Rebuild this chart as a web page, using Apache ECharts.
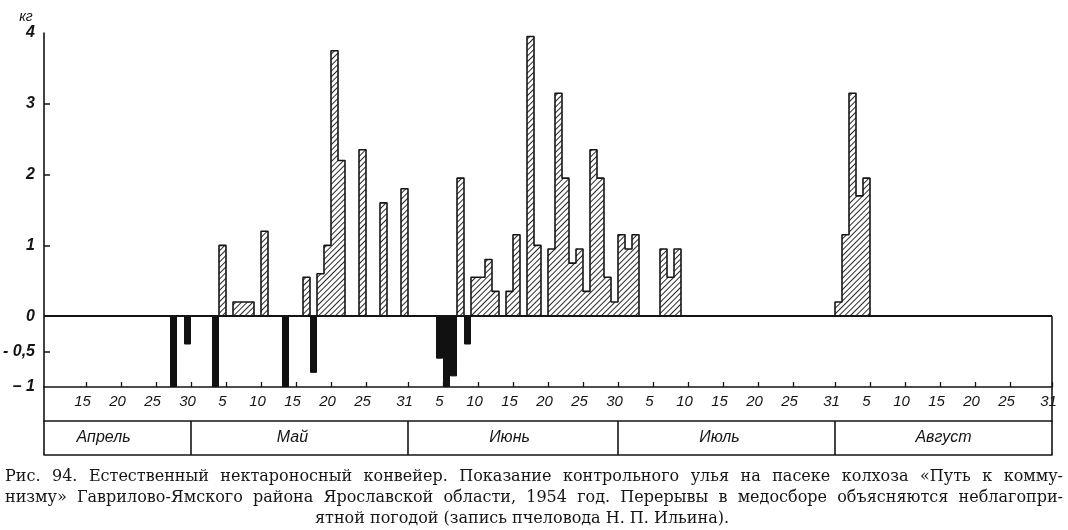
<!DOCTYPE html>
<html><head><meta charset="utf-8">
<script src="https://cdn.jsdelivr.net/npm/echarts@6/dist/echarts.min.js"></script>
<style>html,body{margin:0;padding:0;background:#fff}#chart{width:1068px;height:530px}</style>
</head><body><div id="chart"></div>
<script>
// ---------------- DATA ----------------
const monthNames = ['Апрель', 'Май', 'Июнь', 'Июль', 'Август'];
const monthFirstDay = [10, 1, 1, 1, 1];
// daily change of hive weight, kg (April 10 – 30)
const april = [0,0,0,0,0, 0,0,0,0,0, 0,0,0,0,0, 0,0,0,-1,0, -0.4];
// May 1 – 31
const may = [0,0,0,-1,1.0, 0,0.2,0.2,0.2,0, 1.2,0,0,-1,0, 0,0.55,-0.8,0.6,1.0, 3.75,2.2,0,0,2.35, 0,0,1.6,0,0, 1.8];
// June 1 – 30
const june = [0,0,0,0,-0.6, -1,-0.85,1.95,-0.4,0.55, 0.55,0.8,0.35,0,0.35, 1.15,0,3.95,1.0,0, 0.95,3.15,1.95,0.75,0.95, 0.35,2.35,1.95,0.55,0.2];
// July 1 – 31
const july = [1.15,0.95,1.15,0,0, 0,0.95,0.55,0.95,0, 0,0,0,0,0, 0,0,0,0,0, 0,0,0,0,0, 0,0,0,0,0, 0];
// August 1 – 31
const august = [0.2,1.15,3.15,1.7,1.95, 0,0,0,0,0, 0,0,0,0,0, 0,0,0,0,0, 0,0,0,0,0, 0,0,0,0,0, 0];
// day tick labels
const aprilTicks = [15, 20, 25, 30];
const mayTicks = [5, 10, 15, 20, 25, 31];
const juneTicks = [5, 10, 15, 20, 25, 30];
const julyTicks = [5, 10, 15, 20, 25, 31];
const augustTicks = [5, 10, 15, 20, 25, 31];
// value axis labels
const yTickValues = [-1, -0.5, 0, 1, 2, 3, 4];
const yTickTexts = ['– 1', '- 0,5', '0', '1', '2', '3', '4'];
const yMinorTickValues = [-0.5, 1, 2, 3];
const unitLabel = 'кг';
const captionLines = [
  'Рис. 94. Естественный нектароносный конвейер. Показание контрольного улья на пасеке колхоза «Путь к комму-',
  'низму» Гаврилово-Ямского района Ярославской области, 1954 год. Перерывы в медосборе объясняются неблагопри-',
  'ятной погодой (запись пчеловода Н. П. Ильина).'
];

// ---------------- BUILD ----------------
const INK = '#151515';
const AX_FONT = '"Liberation Sans Narrow","Liberation Sans",sans-serif';
const CAP_FONT = '16px "DejaVu Serif", serif';
const monthValues = [april, may, june, july, august];
const monthTicks = [aprilTicks, mayTicks, juneTicks, julyTicks, augustTicks];
const monthLabelShift = [-2, -1, 0, -1, 0];

const cats = [], values = [];
const labelIdx = new Set(), tickIdx = new Set(), monthStartIdx = new Set([0]);
const monthLabelAt = {};
monthValues.forEach((arr, m) => {
  const start = cats.length;
  if (m > 0) monthStartIdx.add(start);
  arr.forEach((v, k) => {
    const day = monthFirstDay[m] + k;
    const idx = cats.length;
    cats.push(m + '-' + day);
    values.push(v);
    if (monthTicks[m].indexOf(day) >= 0) { labelIdx.add(idx); tickIdx.add(idx + 1); }
  });
  const mid = Math.floor((start + cats.length - 1) / 2) + monthLabelShift[m];
  monthLabelAt[mid] = monthNames[m];
});
const gain = values.map(v => v > 0 ? v : 0);
const gainBars = values.map(v => v > 0 ? v : '-');
const lossBars = values.map(v => v < 0 ? v : '-');

const chart = echarts.init(document.getElementById('chart'), null, {renderer: 'canvas'});
const axisLineStyle = {color: INK, width: 1.6};
const base = {type: 'category', data: cats, position: 'bottom', boundaryGap: true, splitLine: {show: false}};

chart.setOption({
  animation: false,
  backgroundColor: '#fff',
  grid: {left: 44, right: 16, top: 33, bottom: 143, containLabel: false, outerBoundsMode: 'none'},
  xAxis: [
    Object.assign({}, base, {
      axisLine: {show: true, onZero: false, lineStyle: axisLineStyle},
      axisTick: {show: true, inside: true, length: 5, interval: i => tickIdx.has(i), lineStyle: {color: INK, width: 1.3}},
      axisLabel: {show: true, interval: i => labelIdx.has(i), formatter: v => v.split('-')[1],
        margin: 7, color: INK, fontSize: 15, fontStyle: 'italic', fontFamily: AX_FONT}
    }),
    Object.assign({}, base, {
      offset: 34,
      axisLine: {show: true, onZero: false, lineStyle: axisLineStyle},
      axisTick: {show: true, inside: true, length: 34, interval: i => i === 0, lineStyle: axisLineStyle},
      axisLabel: {show: false}
    }),
    Object.assign({}, base, {
      offset: 68,
      axisLine: {show: true, onZero: false, lineStyle: axisLineStyle},
      axisTick: {show: true, inside: true, length: 34, interval: i => monthStartIdx.has(i), lineStyle: axisLineStyle},
      axisLabel: {show: true, inside: true, interval: i => monthLabelAt[i] !== undefined,
        formatter: (v, i) => monthLabelAt[i] || '', margin: 9, color: INK, fontSize: 16,
        fontStyle: 'italic', fontFamily: AX_FONT}
    })
  ],
  yAxis: {
    type: 'value', min: -1, max: 4, interval: 0.5,
    axisLine: {show: true, onZero: false, lineStyle: axisLineStyle},
    axisTick: {show: true, inside: true, length: 6, customValues: yMinorTickValues, lineStyle: {color: INK, width: 1.5}},
    axisLabel: {customValues: yTickValues, formatter: v => yTickTexts[yTickValues.indexOf(v)],
      margin: 9, color: INK, fontSize: 16, fontWeight: 'bold', fontStyle: 'italic', fontFamily: AX_FONT},
    splitLine: {show: false}
  },
  series: [
    {
      name: 'gain', type: 'bar', data: gainBars, barGap: '-100%', barCategoryGap: '0%',
      itemStyle: {color: '#fff', borderWidth: 0,
        decal: {symbol: 'rect', symbolSize: 1, dashArrayX: [1, 0], dashArrayY: [1, 3], rotation: -Math.PI / 4, color: '#2a2a2a'}},
      markLine: {silent: true, symbol: 'none', label: {show: false}, lineStyle: {color: INK, width: 1.8, type: 'solid'},
        data: [{yAxis: 0}]}
    },
    {
      name: 'loss', type: 'bar', data: lossBars, barGap: '-100%', barCategoryGap: '0%',
      itemStyle: {color: '#111', borderColor: '#111', borderWidth: 1}
    },
    {
      name: 'outline', type: 'line', step: 'middle', data: gain, symbol: 'none', z: 5,
      lineStyle: {color: INK, width: 1.6}
    }
  ]
});

// frame pieces and caption
const y0 = chart.convertToPixel({yAxisIndex: 0}, 0);
const yMin = chart.convertToPixel({yAxisIndex: 0}, -1);
const xLast = chart.convertToPixel({xAxisIndex: 0}, cats.length - 1);
const xPrev = chart.convertToPixel({xAxisIndex: 0}, cats.length - 2);
const xRight = xLast + (xLast - xPrev) / 2;

const ctx = document.createElement('canvas').getContext('2d');
ctx.font = CAP_FONT;
const graphics = [
  {type: 'line', shape: {x1: xRight, y1: y0, x2: xRight, y2: yMin}, style: {stroke: INK, lineWidth: 1.6}, z: 10},
  {type: 'text', x: 26, y: 17, style: {text: unitLabel, font: 'italic 14px ' + AX_FONT, fill: INK, textAlign: 'center', textVerticalAlign: 'middle'}}
];
const capY = [477, 498, 519];
captionLines.forEach((line, li) => {
  const words = line.split(' ');
  const widths = words.map(w => ctx.measureText(w).width);
  const total = widths.reduce((a, b) => a + b, 0);
  if (li < captionLines.length - 1) {
    const left = 5, right = 1063;
    const gap = (right - left - total) / (words.length - 1);
    let x = left;
    words.forEach((w, k) => {
      graphics.push({type: 'text', x: x, y: capY[li], style: {text: w, font: CAP_FONT, fill: INK, textVerticalAlign: 'middle'}});
      x += widths[k] + gap;
    });
  } else {
    graphics.push({type: 'text', x: 522, y: capY[li], style: {text: line, font: CAP_FONT, fill: INK, textAlign: 'center', textVerticalAlign: 'middle'}});
  }
});
chart.setOption({graphic: graphics});
</script></body></html>
